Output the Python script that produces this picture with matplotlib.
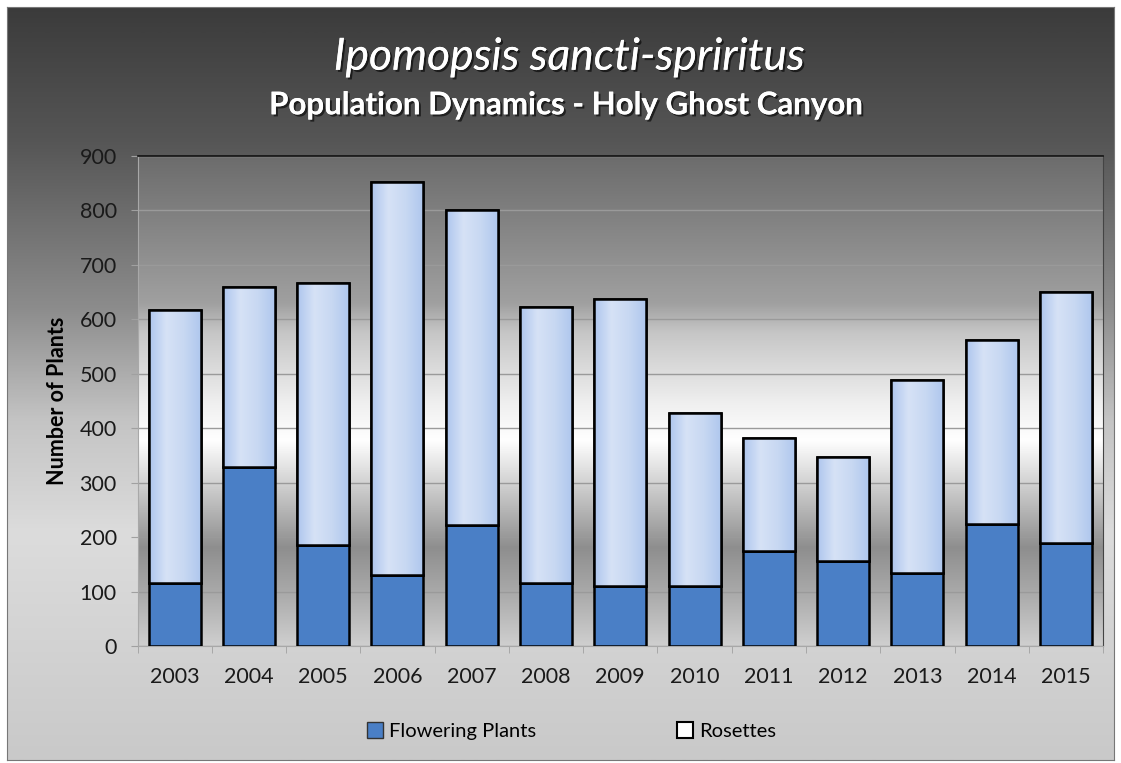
import numpy as np
import matplotlib.pyplot as plt
import matplotlib.patheffects as pe
from matplotlib.colors import LinearSegmentedColormap
from matplotlib.patches import Patch, Rectangle

years = ['2003', '2004', '2005', '2006', '2007', '2008', '2009',
         '2010', '2011', '2012', '2013', '2014', '2015']
flowering = [116, 329, 185, 130, 223, 116, 110, 110, 174, 156, 134, 225, 189]
totals = [617, 660, 666, 852, 801, 622, 638, 428, 382, 348, 488, 562, 651]
rosettes = [t - f for t, f in zip(totals, flowering)]

plt.rcParams['font.family'] = ['Lato', 'DejaVu Sans']

fig = plt.figure(figsize=(11.21, 7.63), dpi=100)
fig.patch.set_facecolor('white')

# whole chart background (vertical gray gradient)
bg = fig.add_axes([0.006, 0.004, 0.988, 0.987], zorder=-10)
stops = [(0.0, '#3b3b3b'), (0.18, '#565656'), (0.40, '#8c8c8c'),
         (0.55, '#c4c4c4'), (0.70, '#dcdcdc'), (1.0, '#c9c9c9')]
cm_bg = LinearSegmentedColormap.from_list('bg', stops)
bg.imshow(np.linspace(0, 1, 256).reshape(-1, 1), aspect='auto', cmap=cm_bg,
          extent=[0, 1, 0, 1], origin='upper')
bg.set_xticks([])
bg.set_yticks([])
for s in bg.spines.values():
    s.set_color('#777777')
    s.set_linewidth(0.8)

ax = fig.add_axes([0.1227, 0.1533, 0.8613, 0.6422])
ax.patch.set_alpha(0)

# plot area gradient (metallic look)
pstops = [(0.0, '#6c6c6c'), (0.30, '#a0a0a0'), (0.36, '#c6c6c6'),
          (0.50, '#eeeeee'), (0.58, '#ffffff'), (0.66, '#d6d6d6'),
          (0.80, '#8e8e8e'), (0.90, '#acacac'), (1.0, '#cfcfcf')]
cm_plot = LinearSegmentedColormap.from_list('pl', pstops)
ax.imshow(np.linspace(0, 1, 256).reshape(-1, 1), aspect='auto', cmap=cm_plot,
          extent=[0, 1, 0, 1], origin='upper', transform=ax.transAxes, zorder=0)

x = np.arange(len(years))
w = 0.7
b1 = ax.bar(x, flowering, w, color='#4a7fc6', edgecolor='black', linewidth=1.8,
            zorder=3, label='Flowering Plants')
b2 = ax.bar(x, rosettes, w, bottom=flowering, color='#c2d3f0', edgecolor='black',
            linewidth=1.8, zorder=3, label='Rosettes')

# soft horizontal shading inside the rosette bars
cm_ros = LinearSegmentedColormap.from_list('ros', ['#aec6ee', '#d6e2f6', '#c8d8f2', '#b0c8ee'])
for r in b2:
    im = ax.imshow(np.linspace(0, 1, 64).reshape(1, -1), aspect='auto', cmap=cm_ros,
                   extent=[r.get_x(), r.get_x() + r.get_width(), r.get_y(), r.get_y() + r.get_height()],
                   zorder=3.5)
    im.set_clip_path(r)
    ax.add_patch(Rectangle((r.get_x(), r.get_y()), r.get_width(), r.get_height(),
                           fill=False, edgecolor='black', linewidth=1.8, zorder=4))

ax.set_xlim(-0.5, len(years) - 0.5)
ax.set_ylim(0, 900)
ax.set_yticks(range(0, 1000, 100))
ax.yaxis.grid(True, color='#9a9a9a', linewidth=1.0, zorder=1)
ax.set_axisbelow(True)

ax.set_xticks(x)
ax.set_xticklabels(years, fontsize=15.5, color='#1a1a1a')
ax.set_xticks(np.arange(-0.5, len(years), 1), minor=True)
ax.tick_params(axis='x', which='major', length=0, pad=15)
ax.tick_params(axis='x', which='minor', length=5, color='#a0a0a0')
ax.tick_params(axis='y', length=5, color='#a0a0a0', pad=10, labelsize=15.5, labelcolor='#1a1a1a')

ax.spines['left'].set_color('#a8a8a8')
ax.spines['bottom'].set_color('#a8a8a8')
ax.spines['top'].set_color('#111111')
ax.spines['right'].set_color('#444444')
ax.spines['top'].set_linewidth(1.2)

ax.set_ylabel('Number of Plants', fontsize=15.5, fontweight='bold', color='black', labelpad=8)

shadow = [pe.withSimplePatchShadow(offset=(1.5, -1.5), shadow_rgbFace='black', alpha=0.6), pe.Normal()]
fig.text(0.508, 0.925, 'Ipomopsis sancti-spriritus', ha='center', va='center',
         fontsize=32, style='italic', color='white', path_effects=shadow)
fig.text(0.505, 0.862, 'Population Dynamics - Holy Ghost Canyon', ha='center', va='center',
         fontsize=22.5, fontweight='bold', color='white', path_effects=shadow)

handles = [Patch(facecolor='#4a7fc6', edgecolor='#333333', label='Flowering Plants'),
           Patch(facecolor='white', edgecolor='black', linewidth=1.5, label='Rosettes')]
fig.legend(handles=handles, loc='center', bbox_to_anchor=(0.51, 0.042), ncol=2,
           frameon=False, fontsize=14.5, handlelength=0.8, handleheight=0.8,
           handletextpad=0.3, columnspacing=7.0)

fig.savefig('out.png', dpi=100)
